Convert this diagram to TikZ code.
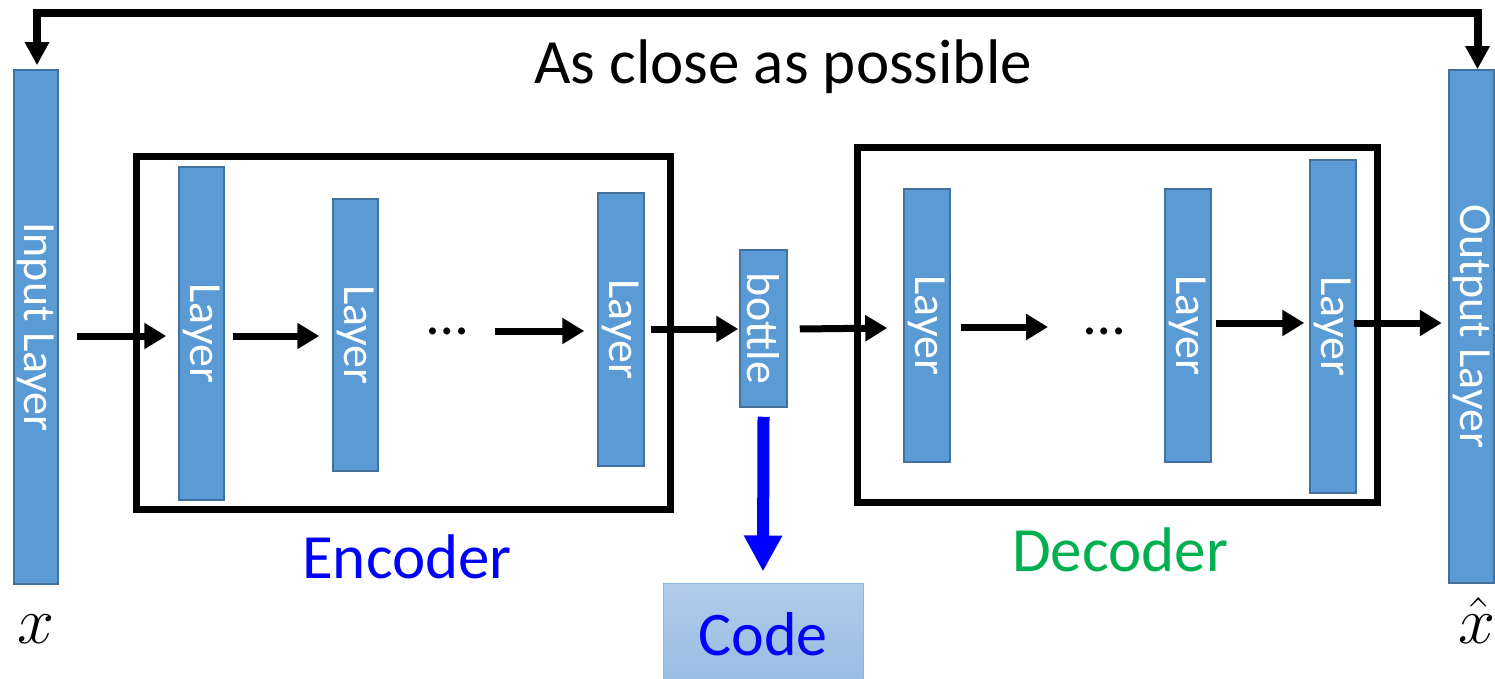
\documentclass[tikz,border=0pt]{standalone}
\usepackage{graphicx}
\usepackage{fontspec}
\setmainfont{Carlito}
\usetikzlibrary{arrows.meta,calc}

\definecolor{layerfill}{HTML}{5B9BD5}
\definecolor{layeredge}{HTML}{41719C}
\definecolor{enccol}{HTML}{0000FF}
\definecolor{deccol}{HTML}{00B050}
\definecolor{codetop}{HTML}{B2CCEA}
\definecolor{codebot}{HTML}{98BCE2}
\definecolor{codeedge}{HTML}{8DB4E2}

\begin{document}
\begin{tikzpicture}[x=1pt,y=-1pt,
  layer/.style={draw=layeredge, line width=1.5pt, fill=layerfill, text=white,
    inner sep=0pt, font=\fontsize{46}{46}\selectfont},
  stage/.style={draw=black, line width=7pt, inner sep=0pt},
  flow/.style={line width=7pt, -{Triangle[length=22pt,width=25pt]}},
  loopback/.style={line width=8pt, {Triangle[length=23pt,width=23pt]}-{Triangle[length=23pt,width=23pt]}},
  codeflow/.style={draw=enccol, line width=12pt, -{Triangle[length=36pt,width=36pt]}, enccol},
  codebox/.style={draw=codeedge, line width=1pt, top color=codetop, bottom color=codebot,
    text=enccol, inner sep=0pt, font=\fontsize{62}{62}\selectfont},
  big/.style={font=\fontsize{63}{63}\selectfont, inner sep=0pt},
  ellip/.style={font=\fontsize{58}{58}\selectfont, inner sep=0pt},
  symb/.style={font=\fontsize{20}{20}\selectfont, inner sep=0pt, anchor=base}
]
\useasboundingbox (0,0) rectangle (1495,679);
\fill[white] (0,0) rectangle (1495,679);
\clip (0,0) rectangle (1495,679);

% encoder and decoder frames
\node[stage, minimum width=534pt, minimum height=352pt] (enc) at (403,333) {};
\node[stage, minimum width=520pt, minimum height=354pt] (dec) at (1117,325) {};

% input and output layers
\node[layer, minimum width=44pt, minimum height=514pt] (in) at (36,327) {\rotatebox{-90}{Input Layer}};
\node[layer, minimum width=45pt, minimum height=513pt] (out) at (1471.5,326.5) {\rotatebox{-90}{Output Layer}};

% encoder layers
\node[layer, minimum width=45pt, minimum height=333pt] (l1) at (201.5,333.5) {\rotatebox{-90}{Layer}};
\node[layer, minimum width=45pt, minimum height=272pt] (l2) at (355.5,335) {\rotatebox{-90}{Layer}};
\node[layer, minimum width=46pt, minimum height=273pt] (l3) at (621,329.5) {\rotatebox{-90}{Layer}};

% bottleneck
\node[layer, minimum width=47pt, minimum height=157pt] (bottle) at (763.5,328.5) {\rotatebox{-90}{bottle}};

% decoder layers
\node[layer, minimum width=46pt, minimum height=273pt] (d1) at (927,325.5) {\rotatebox{-90}{Layer}};
\node[layer, minimum width=46pt, minimum height=273pt] (d2) at (1188,325.5) {\rotatebox{-90}{Layer}};
\node[layer, minimum width=46pt, minimum height=333pt] (d3) at (1333,326.5) {\rotatebox{-90}{Layer}};

% ellipses between layers
\node[ellip] (dotsA) at (448,331) {…};
\node[ellip] (dotsB) at (1104.5,331) {…};

% code output
\node[codebox, minimum width=200pt, minimum height=102pt] (code) at (763,634) {Code};

% labels
\node[big, anchor=base] (title) at (783,84) {As close as possible};
\node[big, anchor=base, text=enccol] (enclabel) at (407,578) {Encoder};
\node[big, anchor=base, text=deccol] (declabel) at (1120,571) {Decoder};
\node[symb] (xin) at (36,643) {\scalebox{3.2}{$x$}};
\node[symb] (xout) at (1477,643) {\scalebox{3.2}{$\hat{x}$}};

% forward flow
\draw[flow] ($(in.east)+(18,9)$) -- ($(l1.west)+(-12,2.5)$);
\draw[flow] ($(l1.east)+(8,2.5)$) -- ($(l2.west)+(-13,1)$);
\draw[flow] ($(dotsA.center)+(47,0)$) -- ($(l3.west)+(-13,1.5)$);
\draw[flow] ($(l3.east)+(6,-0.5)$) -- ($(bottle.west)+(-1,0.5)$);
\draw[flow] ($(bottle.east)+(12,0.5)$) -- ($(d1.west)+(-16,2.5)$);
\draw[flow] ($(d1.east)+(10,1.5)$) -- ($(dotsB.center)+(-56.5,-4)$);
\draw[flow] ($(d2.east)+(4,-2.5)$) -- ($(d3.west)+(-5,-3.5)$);
\draw[flow] ($(d3.east)+(-3,-3.5)$) -- ($(out.west)+(-6.5,-3.5)$);

% code extraction
\draw[codeflow] ($(bottle.south)+(0,9)$) -- ($(code.north)+(0,-11)$);

% reconstruction target
\coordinate (topbar) at (760,13);
\draw[loopback] ($(in.north)+(1,-4)$) |- (topbar) -| ($(out.north)+(6,0)$);
\end{tikzpicture}
\end{document}
